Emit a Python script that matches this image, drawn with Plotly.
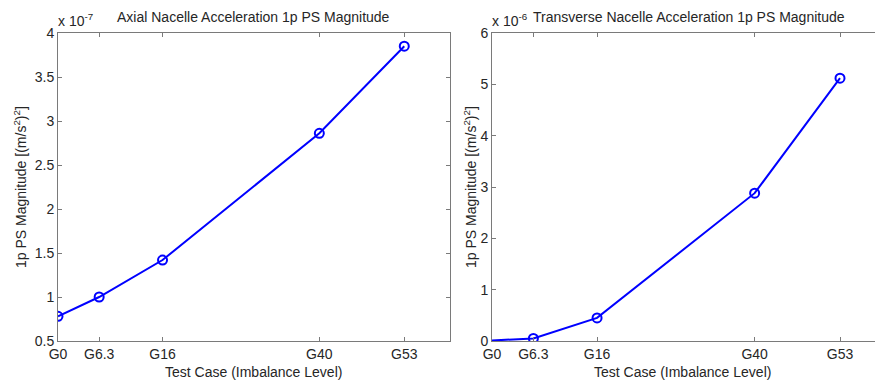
import plotly.graph_objects as go

# ---- data ----
cases = ["G0", "G6.3", "G16", "G40", "G53"]
case_pos = [0, 6.3, 16, 40, 53]
axial_mag = [0.78e-7, 1.00e-7, 1.42e-7, 2.86e-7, 3.85e-7]
transverse_mag = [0.01e-6, 0.05e-6, 0.45e-6, 2.88e-6, 5.12e-6]

axial_ticks = [0.5e-7, 1.0e-7, 1.5e-7, 2.0e-7, 2.5e-7, 3.0e-7, 3.5e-7, 4.0e-7]
axial_ticktext = ["0.5", "1", "1.5", "2", "2.5", "3", "3.5", "4"]
trans_ticks = [0, 1e-6, 2e-6, 3e-6, 4e-6, 5e-6, 6e-6]
trans_ticktext = ["0", "1", "2", "3", "4", "5", "6"]

titles = ["Axial Nacelle Acceleration 1p PS Magnitude",
          "Transverse Nacelle Acceleration 1p PS Magnitude"]
xlabel = "Test Case (Imbalance Level)"
ylabel = "1p PS Magnitude [(m/s<sup>2</sup>)<sup>2</sup>]"

W, H = 875, 384
FONT = "Liberation Sans, Arial, sans-serif"
FS = 14
TXT = "#262626"
AX = "#7a7a7a"
BLUE = "#0000ff"

fig = go.Figure()
line_style = dict(color=BLUE, width=2)
marker_style = dict(symbol="circle-open", size=9, color=BLUE, line=dict(width=2, color=BLUE))

fig.add_trace(go.Scatter(x=case_pos, y=axial_mag, mode="lines+markers",
                         line=line_style, marker=marker_style, xaxis="x", yaxis="y",
                         showlegend=False))
# transverse: line through all points; the G0 marker sits hidden on the axis corner in the reference
fig.add_trace(go.Scatter(x=case_pos, y=transverse_mag, mode="lines",
                         line=line_style, xaxis="x2", yaxis="y2", showlegend=False))
fig.add_trace(go.Scatter(x=case_pos[1:], y=transverse_mag[1:], mode="markers",
                         marker=marker_style, xaxis="x2", yaxis="y2", showlegend=False))

# pixel geometry
L1, R1 = 58, 450
L2, R2 = 492, 875
TOP, BOT = 33, 341
ydom = [(H - BOT) / H, (H - TOP) / H]
px_per_unit2 = 6.566
x2_max = (R2 - L2) / px_per_unit2

common_x = dict(tickmode="array", tickvals=case_pos, ticktext=cases,
                ticks="inside", ticklen=4, tickcolor=AX, showline=True, linecolor=AX,
                linewidth=1, showgrid=False, zeroline=False, mirror="ticks",
                tickfont=dict(family=FONT, size=FS, color=TXT), automargin=False)
common_y = dict(ticks="inside", ticklen=4, tickcolor=AX, showline=True, linecolor=AX,
                linewidth=1, showgrid=False, zeroline=False,
                tickfont=dict(family=FONT, size=FS, color=TXT), automargin=False)

fig.update_layout(
    width=W, height=H,
    margin=dict(l=0, r=0, t=0, b=0),
    paper_bgcolor="white", plot_bgcolor="white",
    xaxis=dict(domain=[L1 / W, R1 / W], range=[0, 60], anchor="y", **common_x),
    yaxis=dict(domain=ydom, range=[0.5e-7, 4e-7], anchor="x", tickmode="array",
               tickvals=axial_ticks, ticktext=axial_ticktext, mirror="ticks", **common_y),
    xaxis2=dict(domain=[L2 / W, 1.0], range=[0, x2_max], anchor="y2", **common_x),
    yaxis2=dict(domain=ydom, range=[0, 6e-6], anchor="x2", tickmode="array",
                tickvals=trans_ticks, ticktext=trans_ticktext, mirror=False, **common_y),
)

ann = []
# titles
ann.append(dict(text=titles[0], x=(L1 + R1) / 2 / W, y=(H - 17) / H, xref="paper", yref="paper",
                showarrow=False, font=dict(family=FONT, size=FS, color=TXT), xanchor="center", yanchor="middle"))
right_full = L2 + 60 * px_per_unit2
ann.append(dict(text=titles[1], x=(L2 + right_full) / 2 / W, y=(H - 17) / H, xref="paper", yref="paper",
                showarrow=False, font=dict(family=FONT, size=FS, color=TXT), xanchor="center", yanchor="middle"))
# exponent labels
ann.append(dict(text="x 10<sup>-7</sup>", x=(L1 - 2) / W, y=(H - 20) / H, xref="paper", yref="paper",
                showarrow=False, font=dict(family=FONT, size=FS, color=TXT), xanchor="left", yanchor="middle"))
ann.append(dict(text="x 10<sup>-6</sup>", x=(L2 - 2) / W, y=(H - 20) / H, xref="paper", yref="paper",
                showarrow=False, font=dict(family=FONT, size=FS, color=TXT), xanchor="left", yanchor="middle"))
# x labels
for cx in [(L1 + R1) / 2, (L2 + right_full) / 2 - 6]:
    ann.append(dict(text=xlabel, x=cx / W, y=(H - 372) / H, xref="paper", yref="paper",
                    showarrow=False, font=dict(family=FONT, size=FS, color=TXT),
                    xanchor="center", yanchor="middle"))
# y labels
for cx in [20, 470]:
    ann.append(dict(text=ylabel, x=cx / W, y=(H - (TOP + BOT) / 2) / H, xref="paper", yref="paper",
                    showarrow=False, textangle=-90, font=dict(family=FONT, size=FS, color=TXT),
                    xanchor="center", yanchor="middle"))
fig.update_layout(annotations=ann)

fig.write_html("out.html")
